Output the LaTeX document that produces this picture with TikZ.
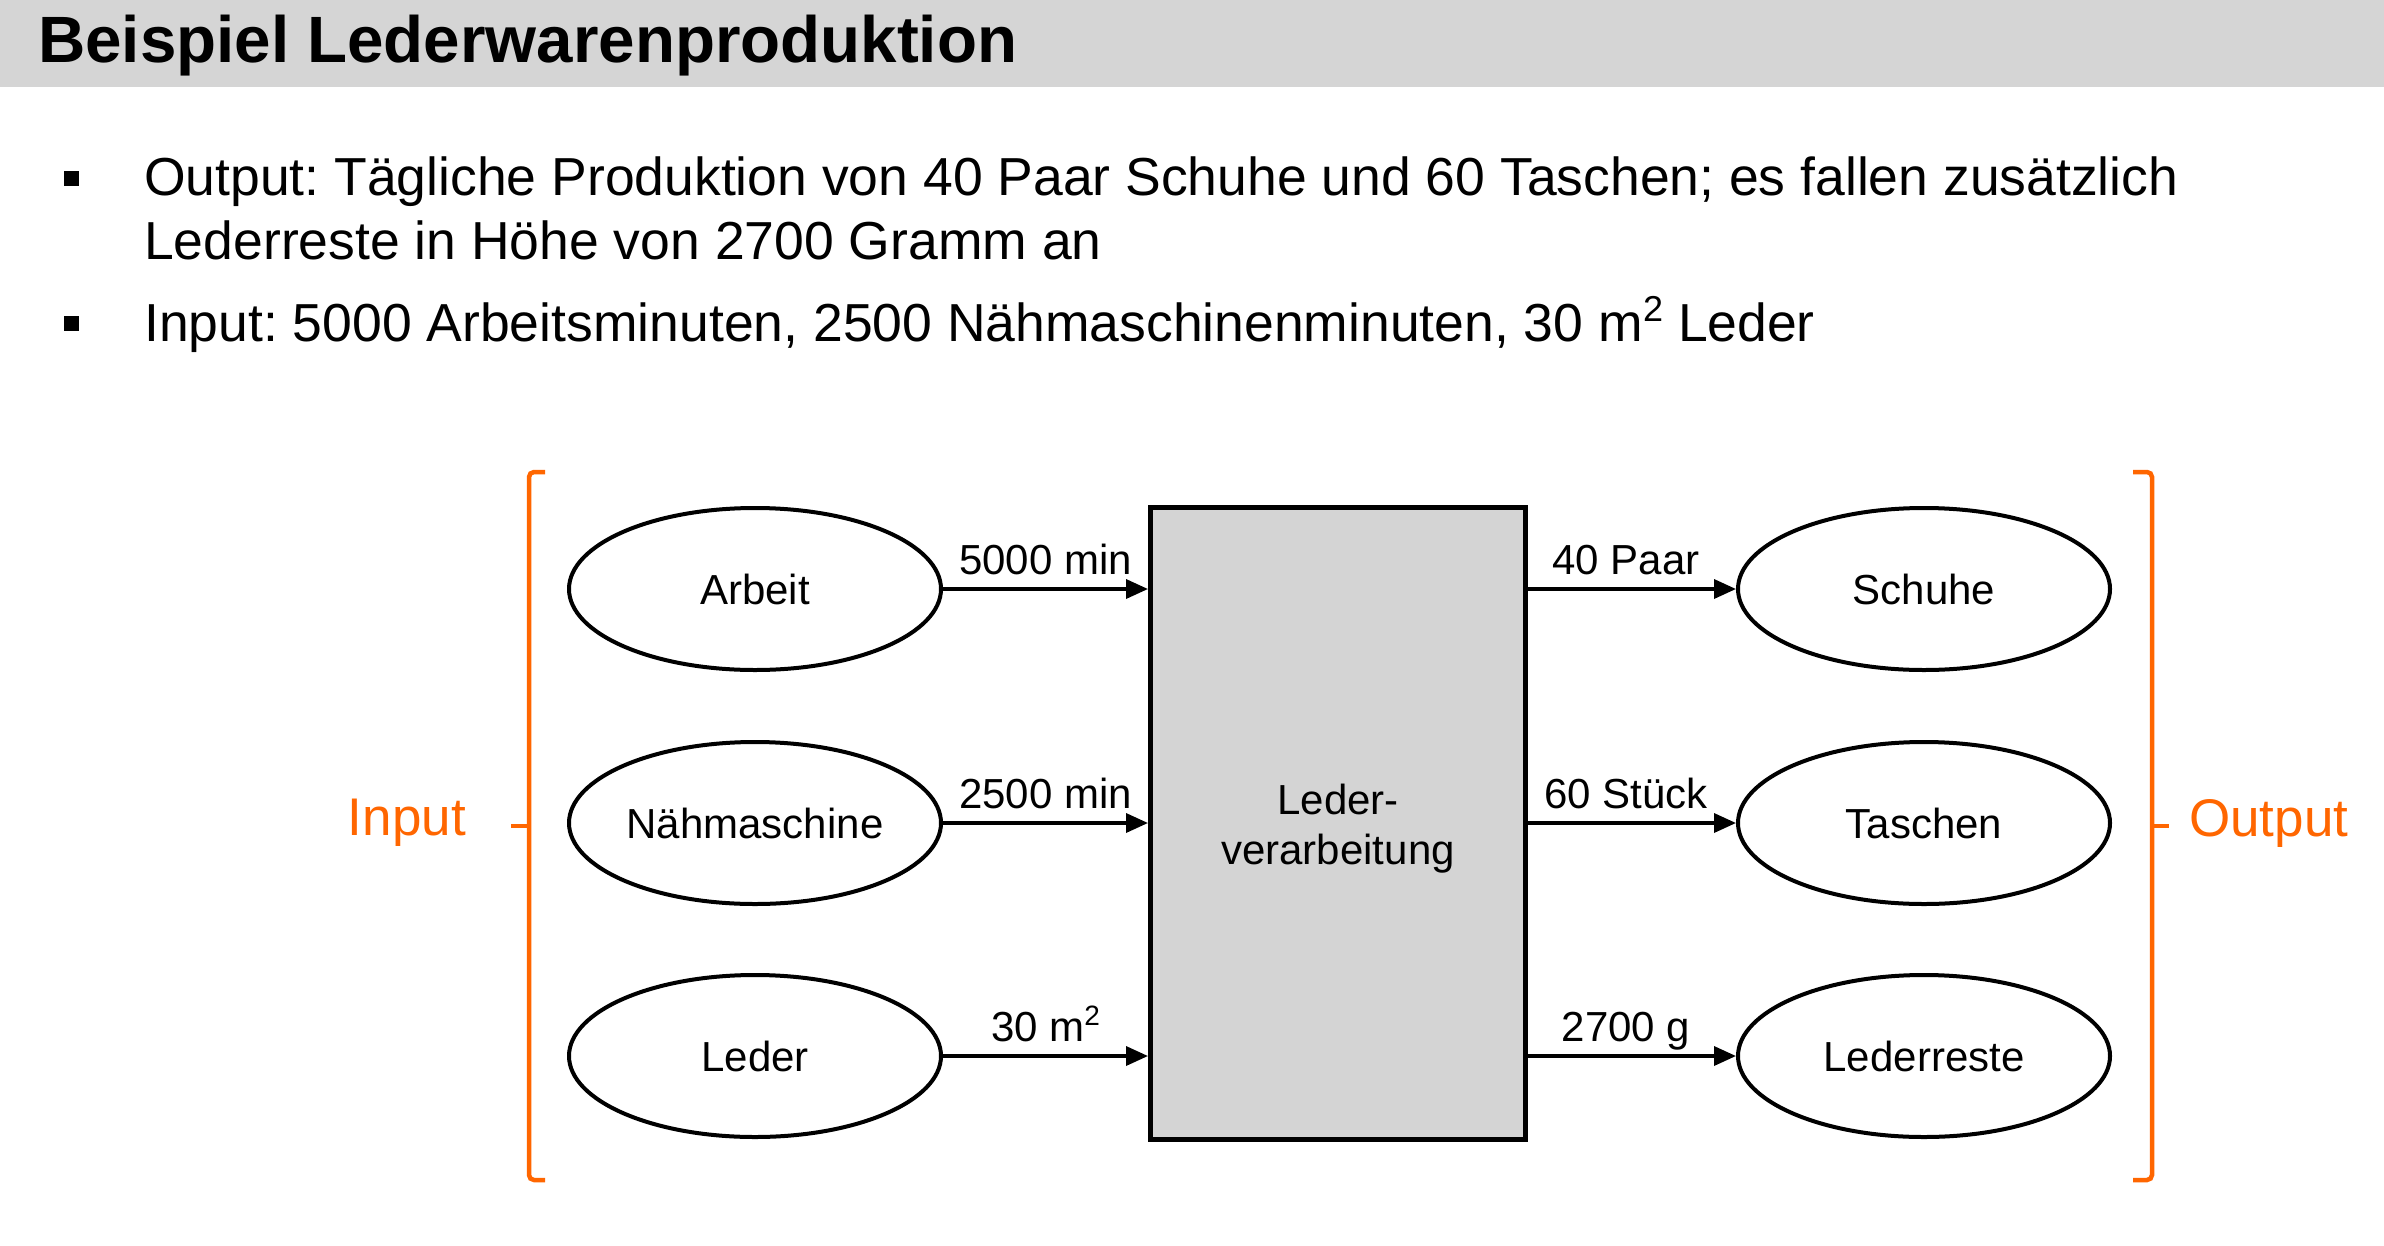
\documentclass[tikz,border=0pt]{standalone}
\usepackage{fontspec}
\setmainfont{Liberation Sans}
\usetikzlibrary{arrows.meta,shapes.geometric}
\definecolor{bargray}{HTML}{D5D5D5}
\definecolor{boxgray}{HTML}{D4D4D4}
\definecolor{accent}{HTML}{FF6600}
\newcommand\supbig[1]{\raisebox{0.36em}{\fontsize{36}{36}\selectfont #1}}
\newcommand\supsmall[1]{\raisebox{0.36em}{\fontsize{28}{28}\selectfont #1}}
\tikzset{
  ell/.style={ellipse, draw, line width=4pt, minimum width=372pt, minimum height=162pt, inner sep=0pt, font=\fontsize{42}{50}\selectfont},
  procbox/.style={rectangle, draw, line width=5pt, fill=boxgray, minimum width=375pt, minimum height=632pt, inner sep=0pt, align=center, font=\fontsize{42}{50}\selectfont},
  arr/.style={line width=3.5pt, -{Triangle[length=22pt,width=19pt]}},
  flowlbl/.style={midway, anchor=base, yshift=15pt, inner sep=0pt, font=\fontsize{42}{50}\selectfont},
  bodytxt/.style={anchor=base west, inner sep=0pt, font=\fontsize{53.5}{64}\selectfont},
  bulletsq/.style={fill=black, minimum size=15pt, inner sep=0pt},
  brack/.style={draw=accent, line width=4.5pt, rounded corners=5pt},
  sidelbl/.style={inner sep=0pt, text=accent, font=\fontsize{53}{60}\selectfont}
}
\begin{document}
\frenchspacing
\begin{tikzpicture}[x=1pt, y=-1pt]
\useasboundingbox (0,0) rectangle (2384,1245);
\fill[white] (0,0) rectangle (2384,1245);
% title bar
\fill[bargray] (0,0) rectangle (2384,87);
\node[anchor=base west, inner sep=0pt, font=\fontsize{65.5}{78}\selectfont\bfseries] (title) at (38,62) {Beispiel Lederwarenproduktion};
% bullets
\node[bulletsq] (b1) at (71,178) {};
\node[bodytxt] (l1) at (144,195) {Output: Tägliche Produktion von 40 Paar Schuhe und 60 Taschen; es fallen zusätzlich};
\node[bodytxt] (l2) at (144,259) {Lederreste in Höhe von 2700 Gramm an};
\node[bulletsq] (b2) at (71,323) {};
\node[bodytxt] (l3) at (144,341) {Input: 5000 Arbeitsminuten, 2500 Nähmaschinenminuten, 30 m\supbig{2} Leder};
% process box
\node[procbox] (proc) at (1338,823) {};
\node[align=center, inner sep=0pt, font=\fontsize{42}{50}\selectfont] (proctxt) at (1338,829) {Leder-\\verarbeitung};
% inputs
\node[ell] (arbeit) at (755,589) {Arbeit};
\node[ell] (naeh) at (755,823) {Nähmaschine};
\node[ell] (leder) at (755,1056) {Leder};
% outputs
\node[ell] (schuhe) at (1924,589) {Schuhe};
\node[ell] (taschen) at (1924,823) {Taschen};
\node[ell] (reste) at (1924,1056) {Lederreste};
% arrows
\draw[arr] (arbeit.east) -- node[flowlbl] {5000 min} (arbeit.east -| proc.west);
\draw[arr] (naeh.east) -- node[flowlbl] {2500 min} (naeh.east -| proc.west);
\draw[arr] (leder.east) -- node[flowlbl] {30 m\supsmall{2}} (leder.east -| proc.west);
\draw[arr] (proc.east |- schuhe.west) -- node[flowlbl, xshift=-6pt] {40 Paar} (schuhe.west);
\draw[arr] (proc.east |- taschen.west) -- node[flowlbl, xshift=-6pt] {60 Stück} (taschen.west);
\draw[arr] (proc.east |- reste.west) -- node[flowlbl, xshift=-6pt] {2700 g} (reste.west);
% brackets
\coordinate (lt) at (545,472);
\coordinate (lb) at (545,1180);
\coordinate (lm) at (529,826);
\draw[brack] (lt) -- (529,472) -- (529,1180) -- (lb);
\draw[brack] (lm) -- (511,826);
\coordinate (rt) at (2133,472);
\coordinate (rb) at (2133,1180);
\coordinate (rm) at (2152,826);
\draw[brack] (rt) -- (2152,472) -- (2152,1180) -- (rb);
\draw[brack] (rm) -- (2169,826);
\node[sidelbl, anchor=east] (inlbl) at (466,823) {Input};
\node[sidelbl, anchor=west] (outlbl) at (2189,823) {Output};
\end{tikzpicture}
\end{document}
